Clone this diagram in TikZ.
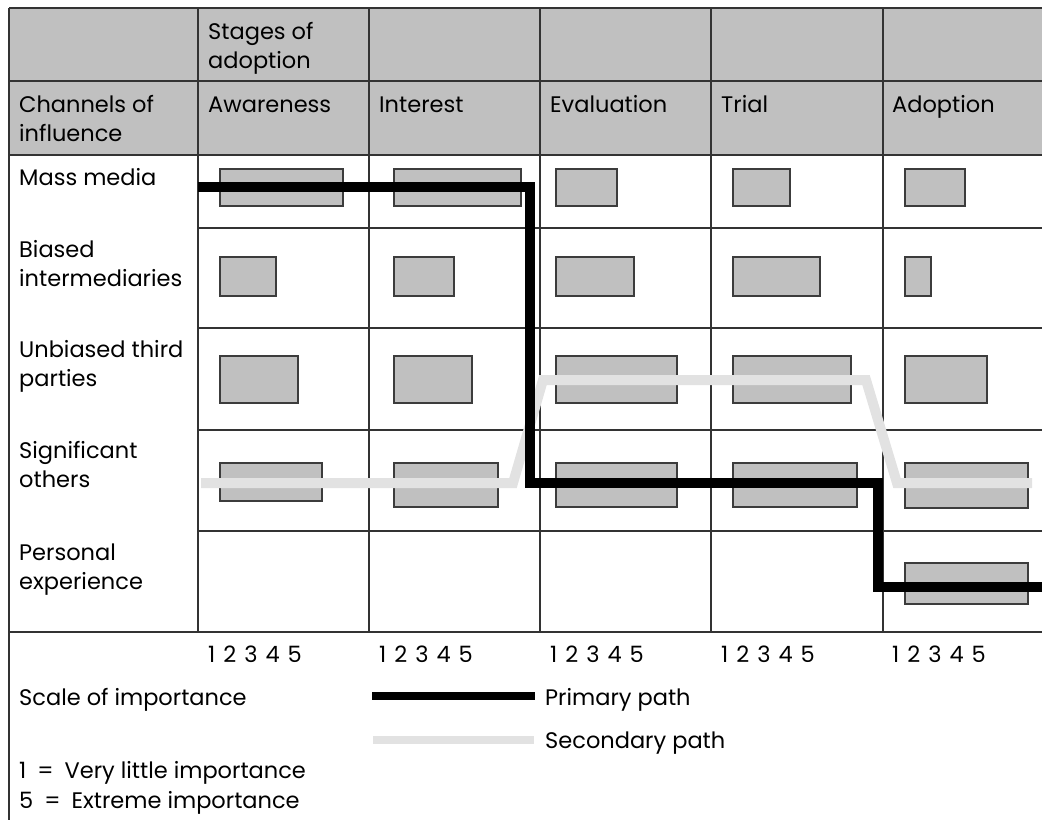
\documentclass[tikz,border=0pt]{standalone}
\usepackage{fontspec}
\setmainfont{Poppins}
\newcommand{\TwoLn}[2]{\vtop{\baselineskip=29.5pt\hbox{#1}\hbox{#2}}}
\newcommand{\ScaleNums}{1\hspace{8pt}2\hspace{8pt}3\hspace{8pt}4\hspace{8pt}5}
\newcommand{\EqGap}{\hspace{11pt}}
\definecolor{hdrgray}{HTML}{C0C0C0}
\definecolor{gridline}{HTML}{333333}
\definecolor{boxedge}{HTML}{3C3C3C}
\definecolor{pathlight}{HTML}{E2E2E2}
\begin{document}
\begin{tikzpicture}[x=1pt,y=-1pt,
  gridln/.style={draw=gridline,line width=1.3pt},
  bar/.style={fill=hdrgray,draw=boxedge,line width=1.3pt},
  lbl/.style={anchor=base west,inner sep=0pt,font=\fontsize{22.5}{27}\selectfont},
  primary/.style={draw=black,line width=10pt,miter limit=10},
  secondary/.style={draw=pathlight,line width=10pt},
]
\useasboundingbox (0,0) rectangle (1042,820);
% header fill
\fill[hdrgray] (9,8) rectangle (1042,155);
% horizontal grid lines
\draw[gridln] (9,8) -- (1042,8);
\draw[gridln] (9,81) -- (1042,81);
\draw[gridln] (9,155) -- (1042,155);
\foreach \yy in {228,328,430,531}{\draw[gridln] (198,\yy) -- (1042,\yy);}
\draw[gridln] (9,632) -- (1042,632);
% vertical grid lines
\draw[gridln] (9,8) -- (9,820);
\foreach \xx in {198,369,540,711,883}{\draw[gridln] (\xx,8) -- (\xx,632);}
% header texts
\node[lbl] (stages) at (208,39) {\TwoLn{Stages of}{adoption}};
\node[lbl] (channels) at (19,112) {\TwoLn{Channels of}{influence}};
\node[lbl] (awareness) at (208,112) {Awareness};
\node[lbl] (interest) at (379,112) {Interest};
\node[lbl] (evaluation) at (550,112) {Evaluation};
\node[lbl] (trial) at (721,112) {Trial};
\node[lbl] (adoption) at (892,112) {Adoption};
% row labels
\node[lbl] (mass) at (19,185) {Mass media};
\node[lbl] (biased) at (19,257) {\TwoLn{Biased}{intermediaries}};
\node[lbl] (unbiased) at (19,357) {\TwoLn{Unbiased third}{parties}};
\node[lbl] (signif) at (19,458) {\TwoLn{Significant}{others}};
\node[lbl] (personal) at (19,560) {\TwoLn{Personal}{experience}};
% bars: mass media
\draw[bar] (220,169) rectangle (343,206);
\draw[bar] (394,169) rectangle (521,206);
\draw[bar] (556,169) rectangle (617,206);
\draw[bar] (733,169) rectangle (790,206);
\draw[bar] (905,169) rectangle (965,206);
% biased
\draw[bar] (220,257) rectangle (276,296);
\draw[bar] (394,257) rectangle (454,296);
\draw[bar] (556,257) rectangle (634,296);
\draw[bar] (733,257) rectangle (820,296);
\draw[bar] (905,257) rectangle (931,296);
% unbiased
\draw[bar] (220,356) rectangle (298,403);
\draw[bar] (394,356) rectangle (472,403);
\draw[bar] (556,356) rectangle (677,403);
\draw[bar] (733,356) rectangle (851,403);
\draw[bar] (905,356) rectangle (987,403);
% significant others
\draw[bar] (220,463) rectangle (322,501);
\draw[bar] (394,463) rectangle (498,507);
\draw[bar] (556,463) rectangle (677,507);
\draw[bar] (733,463) rectangle (857,507);
\draw[bar] (905,463) rectangle (1028,508);
% personal experience
\draw[bar] (905,563) rectangle (1028,604);
% secondary path
\coordinate (s0) at (201,483);
\coordinate (s1) at (513,483);
\coordinate (s2) at (543,380);
\coordinate (s3) at (866,380);
\coordinate (s4) at (897,483);
\coordinate (s5) at (1032,483);
\draw[secondary] (s0) -- (s1) -- (s2) -- (s3) -- (s4) -- (s5);
% primary path
\coordinate (p0) at (198,187);
\coordinate (p1) at (530,187);
\coordinate (p2) at (530,483);
\coordinate (p3) at (878,483);
\coordinate (p4) at (878,587);
\coordinate (p5) at (1042,587);
\draw[primary] (p0) -- (p1) -- (p2) -- (p3) -- (p4) -- (p5);
% scale numbers
\foreach \xx/\nm in {208/sa,379/sb,550/sc,721/sd,892/se}{
  \node[lbl] (\nm) at (\xx,662) {\ScaleNums};}
% legend
\node[lbl] (scale) at (19,705) {Scale of importance};
\coordinate (lp0) at (372,696);
\node[lbl] (primtxt) at (545,705) {Primary path};
\draw[draw=black,line width=8pt] (lp0) -- ([xshift=-10pt]primtxt.base west |- lp0);
\coordinate (ls0) at (373,740);
\node[lbl] (sectxt) at (545,748) {Secondary path};
\draw[draw=pathlight,line width=8pt] (ls0) -- ([xshift=-11pt]sectxt.base west |- ls0);
\node[lbl] (one) at (19,778) {1\EqGap=\EqGap Very little importance};
\node[lbl] (five) at (19,808) {5\EqGap=\EqGap Extreme importance};
\end{tikzpicture}
\end{document}
